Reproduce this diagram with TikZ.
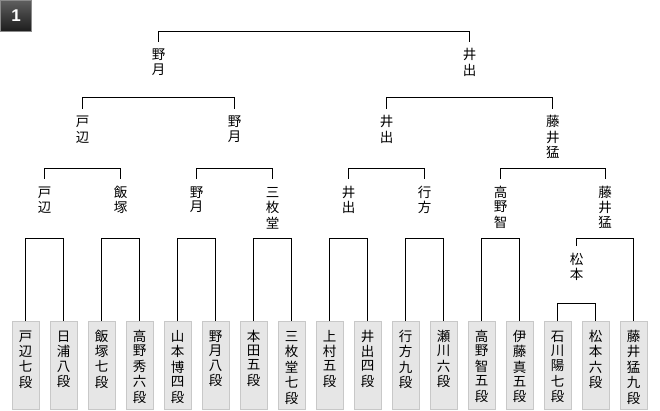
\documentclass[tikz,border=0pt]{standalone}
\usepackage{fontspec}
\usepackage{tikz}
\usetikzlibrary{positioning, calc}
\newfontfamily\jpfont{Noto Sans CJK JP}
\setsansfont{Liberation Sans}
\definecolor{boxgray}{HTML}{E6E6E6}
\definecolor{edgegray}{HTML}{C8C8C8}
\definecolor{badgetop}{HTML}{5E5E5E}
\definecolor{badgebot}{HTML}{1C1C1C}
\definecolor{badgeedge}{HTML}{8A8A8A}
% names set one character per line
\newcommand{\vname}[1]{\begin{tabular}[t]{@{}c@{}}#1\end{tabular}}

\begin{document}
\begin{tikzpicture}[x=1pt, y=1pt, font=\jpfont\fontsize{13.5}{14}\selectfont,
  player/.style={fill=boxgray, draw=edgegray, anchor=north, inner sep=0pt, minimum width=27pt, text height=19.9pt, text depth=68.1pt},
  winner/.style={anchor=north, inner sep=0pt, outer xsep=0pt, outer ysep=6pt, text height=12pt},
  bracket/.style={draw=black, line width=1pt},
  badge/.style={draw=badgeedge, top color=badgetop, bottom color=badgebot, minimum size=31pt, inner sep=0pt, text=white, font=\sffamily\bfseries\fontsize{17}{17}\selectfont}]
  \useasboundingbox (0,0) rectangle (660,410);
  % round badge
  \node[badge] (round) at (16,394) {1};
  % players (bottom row)
  \foreach \i/\w in {0/{戸\\辺\\七\\段}, 1/{日\\浦\\八\\段}, 2/{飯\\塚\\七\\段}, 3/{高\\野\\秀\\六\\段},
                     4/{山\\本\\博\\四\\段}, 5/{野\\月\\八\\段}, 6/{本\\田\\五\\段}, 7/{三\\枚\\堂\\七\\段},
                     8/{上\\村\\五\\段}, 9/{井\\出\\四\\段}, 10/{行\\方\\九\\段}, 11/{瀬\\川\\六\\段},
                     12/{高\\野\\智\\五\\段}, 13/{伊\\藤\\真\\五\\段}, 14/{石\\川\\陽\\七\\段},
                     15/{松\\本\\六\\段}, 16/{藤\\井\\猛\\九\\段}} {
    \node[player] (p\i) at (25.5+38*\i,89) {\vname{\w}};
  }
  % preliminary game
  \node[winner] (m7) at (576.5,164) {\vname{松\\本}};
  \draw[bracket] (p14.north) -- ++(0,18) -| (p15.north);
  % round 1
  \foreach \k/\w in {0/{戸\\辺}, 1/{飯\\塚}, 2/{野\\月}, 3/{三\\枚\\堂}, 4/{井\\出}, 5/{行\\方}, 6/{高\\野\\智}} {
    \node[winner] (r1-\k) at (44.5+76*\k,231) {\vname{\w}};
  }
  \node[winner] (r1-7) at (605,231) {\vname{藤\\井\\猛}};
  \foreach \k in {0,...,6} {
    \pgfmathtruncatemacro{\a}{2*\k}
    \pgfmathtruncatemacro{\b}{2*\k+1}
    \draw[bracket] (p\a.north) -- ++(0,83) -| (p\b.north);
  }
  \draw[bracket] (m7.north) -- ++(0,8) -| (p16.north);
  % round 2
  \foreach \k/\x/\w in {0/82.5/{戸\\辺}, 1/234.5/{野\\月}, 2/386.5/{井\\出}, 3/552.75/{藤\\井\\猛}} {
    \node[winner] (r2-\k) at (\x,301) {\vname{\w}};
  }
  \foreach \k in {0,...,3} {
    \pgfmathtruncatemacro{\a}{2*\k}
    \pgfmathtruncatemacro{\b}{2*\k+1}
    \draw[bracket] (r1-\a.north) -- ++(0,10) -| (r1-\b.north);
  }
  % semifinals
  \node[winner] (r3-0) at (158.5,368) {\vname{野\\月}};
  \node[winner] (r3-1) at (469.6,368) {\vname{井\\出}};
  \draw[bracket] (r2-0.north) -- ++(0,11) -| (r2-1.north);
  \draw[bracket] (r2-2.north) -- ++(0,11) -| (r2-3.north);
  % final
  \draw[bracket] (r3-0.north) -- ++(0,10) -| (r3-1.north);
\end{tikzpicture}
\end{document}
